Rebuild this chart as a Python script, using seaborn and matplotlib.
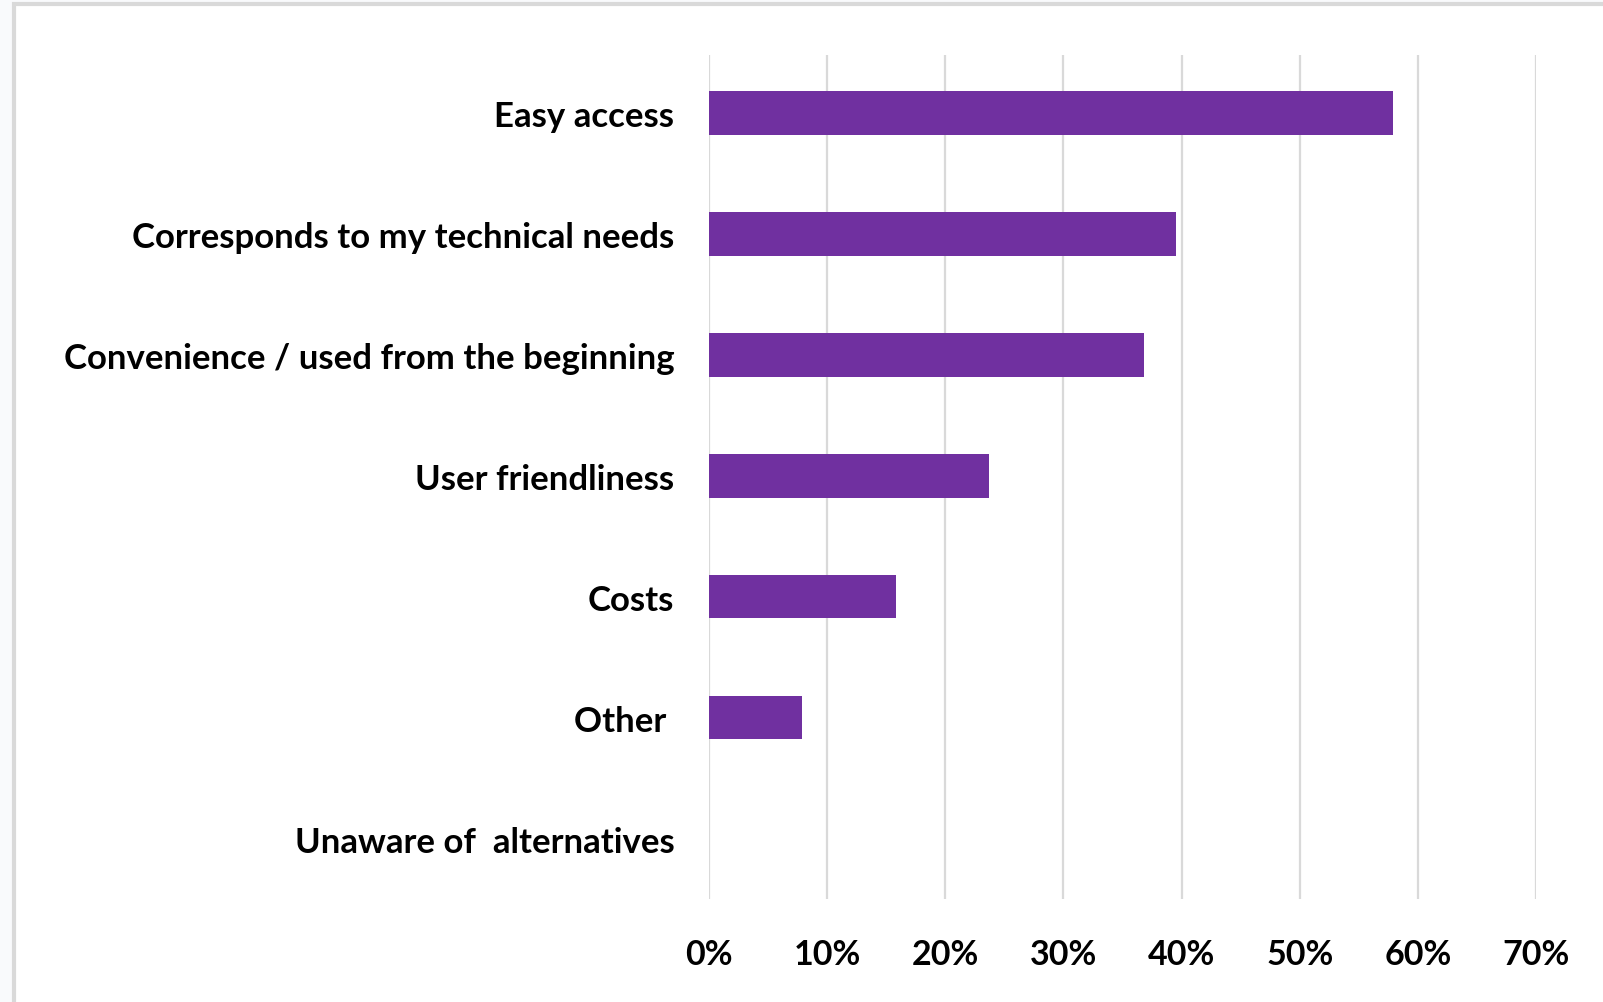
import matplotlib
matplotlib.use("Agg")
import matplotlib.pyplot as plt
import matplotlib.patches as mpatches
from matplotlib.ticker import PercentFormatter
import seaborn as sns
import pandas as pd

categories = [
    "Easy access",
    "Corresponds to my technical needs",
    "Convenience / used from the beginning",
    "User friendliness",
    "Costs",
    "Other ",
    "Unaware of  alternatives",
]
values = [0.579, 0.395, 0.368, 0.237, 0.158, 0.079, 0.0]
xticks = [0, 0.1, 0.2, 0.3, 0.4, 0.5, 0.6, 0.7]

df = pd.DataFrame({"category": categories, "value": values})

sns.set_theme(style="white")
plt.rcParams["font.family"] = ["Lato", "DejaVu Sans"]

fig = plt.figure(figsize=(16.03, 10.03), dpi=100)
fig.patch.set_facecolor("#f9fafc")
# white panel with light gray border (screenshot frame)
fig.patches.append(mpatches.Rectangle((14 / 1603, -0.05), 1.1, 1 - 5 / 1003 + 0.05,
                                      transform=fig.transFigure, facecolor="white",
                                      edgecolor="#d9d9d9", linewidth=3, zorder=-5))

ax = fig.add_axes([709 / 1603, 1 - 900 / 1003, (1536 - 709) / 1603, (900 - 56) / 1003])
ax.set_zorder(2)
ax.set_facecolor("none")

sns.barplot(data=df, x="value", y="category", orient="h", color="#7030A0",
            width=0.36, ax=ax, zorder=3, saturation=1, linewidth=0)

ax.set_xlim(0, 0.7)
ax.set_ylim(6.5, -0.48)
ax.set_xticks(xticks)
ax.xaxis.set_major_formatter(PercentFormatter(1.0, decimals=0))
ax.grid(axis="x", color="#d9d9d9", linewidth=1.6, zorder=0)
ax.grid(axis="y", visible=False)
for s in ax.spines.values():
    s.set_visible(False)
ax.set_xlabel("")
ax.set_ylabel("")
ax.tick_params(axis="y", length=0, pad=25, labelsize=25)
ax.tick_params(axis="x", length=0, pad=28, labelsize=24.5)
for lab in ax.get_yticklabels() + ax.get_xticklabels():
    lab.set_fontweight("bold")
    lab.set_color("black")

fig.savefig("out.png", dpi=100, facecolor=fig.get_facecolor())
